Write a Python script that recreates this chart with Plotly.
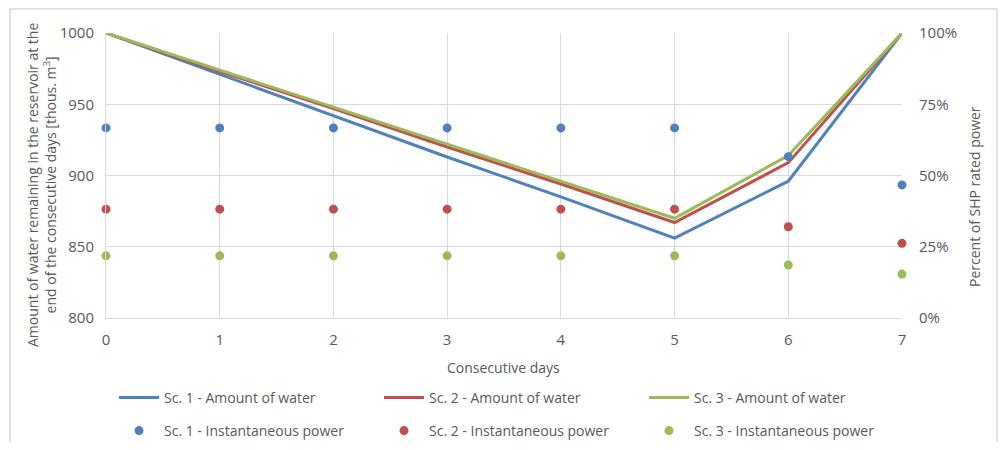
import plotly.graph_objects as go

days = [0, 1, 2, 3, 4, 5, 6, 7]
water_sc1 = [1000, 971, 942, 913, 885, 856, 896, 1000]
water_sc2 = [1000, 973, 947, 920, 894, 867, 909, 1000]
water_sc3 = [1000, 974, 948, 922, 896, 870, 914, 1000]
power_sc1 = [0.667, 0.667, 0.667, 0.667, 0.667, 0.667, 0.566, 0.467]
power_sc2 = [0.382, 0.382, 0.382, 0.382, 0.382, 0.382, 0.32, 0.262]
power_sc3 = [0.218, 0.218, 0.218, 0.218, 0.218, 0.218, 0.186, 0.154]

line_names = ["Sc. 1 - Amount of water", "Sc. 2 - Amount of water", "Sc. 3 - Amount of water"]
point_names = ["Sc. 1 - Instantaneous power", "Sc. 2 - Instantaneous power", "Sc. 3 - Instantaneous power"]
colors = ["#4F81BD", "#C0504D", "#9BBB59"]

# page body has an 8px margin: figure pixel = screen pixel - 8
OFF = 8
W, H = 990, 434
L, R, T, B = 106 - OFF, 902 - OFF, 33 - OFF, 318 - OFF

fig = go.Figure()
for ys, nm, c in zip([water_sc1, water_sc2, water_sc3], line_names, colors):
    fig.add_trace(go.Scatter(x=days, y=ys, name=nm, mode="lines",
                             line=dict(color=c, width=3), cliponaxis=False,
                             legend="legend"))
for ys, nm, c in zip([power_sc1, power_sc2, power_sc3], point_names, colors):
    fig.add_trace(go.Scatter(x=days, y=ys, name=nm, mode="markers", yaxis="y2",
                             marker=dict(color=c, size=9), cliponaxis=False,
                             legend="legend2"))

grey = "#595959"
grid = "#D9D9D9"
font_ax = "Open Sans, DejaVu Sans, sans-serif"
font_lg = "Liberation Sans Narrow, Open Sans, sans-serif"

def sx(p):  # screen x -> paper
    return ((p - OFF) - L) / (R - L)

def sy(p):  # screen y -> paper
    return (B - (p - OFF)) / (B - T)

fig.update_layout(
    width=W, height=H,
    margin=dict(l=L, r=W - R, t=T, b=H - B, pad=0, autoexpand=False),
    paper_bgcolor="white", plot_bgcolor="white",
    font=dict(family=font_ax, color=grey, size=14),
    xaxis=dict(range=[0, 7], tickvals=days, showgrid=True, gridcolor=grid,
               showline=True, linecolor=grid, linewidth=1, zeroline=False,
               ticks="", ticklabelstandoff=8, tickfont=dict(size=15, color=grey),
               automargin=False),
    yaxis=dict(range=[800, 1000], dtick=50, showgrid=True, gridcolor=grid,
               showline=True, linecolor=grid, zeroline=False, ticks="",
               ticklabelstandoff=8, tickfont=dict(size=15, color=grey),
               automargin=False),
    yaxis2=dict(range=[0, 1], dtick=0.25, tickformat=".0%", overlaying="y", side="right",
                showgrid=False, zeroline=False, showline=False, ticks="",
                ticklabelstandoff=16, tickfont=dict(size=15, color=grey),
                automargin=False),
    legend=dict(orientation="h", x=sx(114), y=sy(398), yanchor="middle", xanchor="left",
                entrywidth=210, entrywidthmode="pixels", itemwidth=40,
                font=dict(family=font_lg, size=14, color=grey), bgcolor="rgba(0,0,0,0)"),
    legend2=dict(orientation="h", x=sx(114), y=sy(431), yanchor="middle", xanchor="left",
                 entrywidth=210, entrywidthmode="pixels", itemwidth=40,
                 font=dict(family=font_lg, size=14, color=grey), bgcolor="rgba(0,0,0,0)"),
    showlegend=True,
    annotations=[
        dict(text="Amount of water remaining in the reservoir at the<br>end of the consecutive days [thous. m<sup>3</sup>]",
             xref="paper", yref="paper", x=sx(41), y=sy(185), xanchor="center", yanchor="middle",
             textangle=-90, showarrow=False, font=dict(size=14, color=grey, family=font_ax)),
        dict(text="Percent of SHP rated power",
             xref="paper", yref="paper", x=sx(974), y=sy(197), xanchor="center", yanchor="middle",
             textangle=-90, showarrow=False, font=dict(size=14, color=grey, family=font_ax)),
        dict(text="Consecutive days",
             xref="paper", yref="paper", x=sx(503), y=sy(367), xanchor="center", yanchor="middle",
             showarrow=False, font=dict(size=14, color=grey, family=font_ax)),
    ],
    shapes=[dict(type="rect", xref="paper", yref="paper",
                 x0=sx(10), x1=sx(997), y0=sy(460), y1=sy(9),
                 line=dict(color="#D9D9D9", width=1.5), fillcolor="rgba(0,0,0,0)", layer="below")],
)

fig.write_html("out.html")
